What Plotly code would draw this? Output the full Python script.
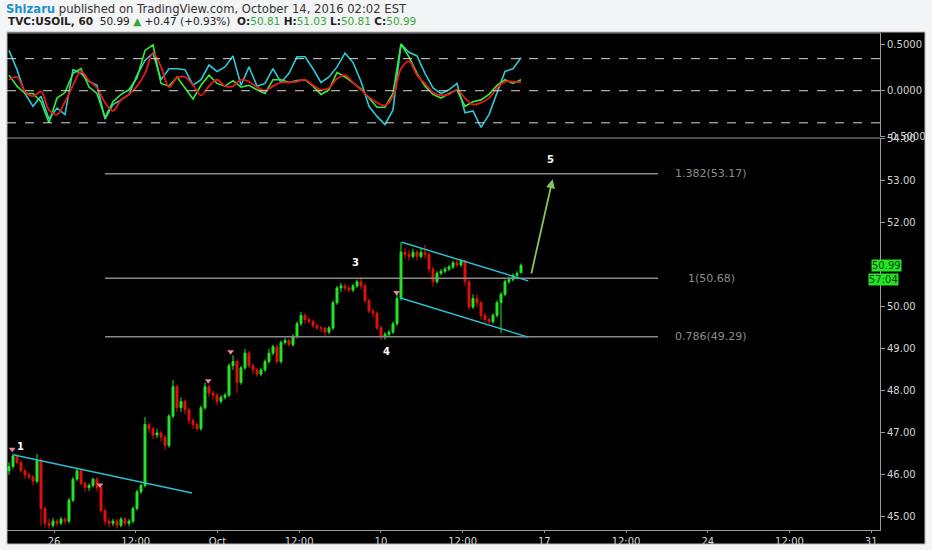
import numpy as np
import plotly.graph_objects as go

# ---------------- data ----------------
close = [46.2, 46.45, 46.3, 46.1, 46.0, 45.95, 45.85, 46.35, 45.2, 44.85,
         44.8, 44.9, 44.85, 44.95, 44.9, 45.4, 45.9, 46.1, 45.8, 45.7,
         45.75, 45.9, 45.7, 45.15, 44.9, 44.85, 44.9, 44.8, 44.95, 44.85,
         44.9, 45.2, 45.6, 45.75, 47.2, 47.1, 46.95, 47.0, 46.9, 46.7,
         47.4, 48.1, 47.6, 47.75, 47.55, 47.3, 47.2, 47.1, 47.6, 48.1,
         47.95, 47.9, 47.75, 47.85, 47.9, 48.6, 48.7, 48.2, 48.55, 48.9,
         48.6, 48.5, 48.4, 48.5, 48.7, 48.9, 49.05, 48.7, 49.15, 49.2,
         49.1, 49.3, 49.6, 49.8, 49.7, 49.65, 49.55, 49.5, 49.5, 49.4,
         49.5, 50.1, 50.45, 50.5, 50.45, 50.4, 50.5, 50.6, 50.5, 50.15,
         49.9, 49.85, 49.5, 49.3, 49.35, 49.4, 49.6, 50.2, 51.3, 51.25,
         51.2, 51.3, 51.2, 51.3, 51.25, 50.9, 50.6, 50.8, 50.85, 50.9,
         50.95, 51.05, 51.0, 51.1, 50.6, 50.0, 50.2, 50.1, 49.8, 49.7,
         49.65, 49.8, 50.1, 50.3, 50.6, 50.65, 50.75, 50.8, 50.99]

open_ = [46.1, 46.2, 46.45, 46.3, 46.1, 46.0, 45.95, 45.85, 46.35, 45.2,
         44.85, 44.8, 44.9, 44.85, 44.95, 44.9, 45.4, 45.9, 46.1, 45.8,
         45.7, 45.75, 45.9, 45.7, 45.15, 44.9, 44.85, 44.9, 44.8, 44.95,
         44.85, 44.9, 45.2, 45.6, 45.75, 47.2, 47.1, 46.95, 47.0, 46.9,
         46.7, 47.4, 48.1, 47.6, 47.75, 47.55, 47.3, 47.2, 47.1, 47.6,
         48.1, 47.95, 47.9, 47.75, 47.85, 47.9, 48.6, 48.7, 48.2, 48.55,
         48.9, 48.6, 48.5, 48.4, 48.5, 48.7, 48.9, 49.05, 48.7, 49.15,
         49.2, 49.1, 49.3, 49.6, 49.8, 49.7, 49.65, 49.55, 49.5, 49.5,
         49.4, 49.5, 50.1, 50.45, 50.5, 50.45, 50.4, 50.5, 50.6, 50.5,
         50.15, 49.9, 49.85, 49.5, 49.3, 49.35, 49.4, 49.6, 50.2, 51.3,
         51.25, 51.2, 51.3, 51.2, 51.3, 51.25, 50.9, 50.6, 50.8, 50.85,
         50.9, 50.95, 51.05, 51.0, 51.1, 50.6, 50.0, 50.2, 50.1, 49.8,
         49.7, 49.65, 49.8, 50.1, 50.3, 50.6, 50.65, 50.75, 50.81]

high = [46.3, 46.5, 46.48, 46.35, 46.15, 46.05, 46.0, 46.5, 46.4, 45.25,
        44.95, 44.98, 44.95, 45.0, 45.0, 45.45, 45.95, 46.17, 46.12, 45.85,
        45.8, 45.93, 45.95, 45.76, 45.2, 44.98, 44.95, 44.95, 45.0, 45.0,
        44.95, 45.25, 45.65, 45.8, 47.38, 47.25, 47.15, 47.1, 47.05, 46.95,
        47.45, 48.26, 48.15, 47.85, 47.8, 47.6, 47.35, 47.25, 47.65, 48.2,
        48.15, 48.0, 47.95, 47.9, 47.95, 48.65, 48.85, 48.75, 48.6, 49.0,
        48.95, 48.65, 48.55, 48.55, 48.75, 49.0, 49.1, 49.1, 49.2, 49.26,
        49.25, 49.35, 49.65, 49.88, 49.85, 49.75, 49.7, 49.6, 49.55, 49.52,
        49.55, 50.15, 50.5, 50.57, 50.55, 50.5, 50.55, 50.65, 50.71, 50.55,
        50.2, 49.95, 49.9, 49.55, 49.4, 49.45, 49.65, 50.35, 51.55, 51.4,
        51.35, 51.38, 51.35, 51.4, 51.48, 51.3, 50.95, 50.85, 50.9, 50.95,
        51.0, 51.1, 51.12, 51.15, 51.12, 50.65, 50.3, 50.3, 50.15, 49.85,
        49.75, 49.85, 50.15, 50.35, 50.65, 50.72, 50.8, 50.85, 51.03]

low = [46.0, 46.15, 46.25, 46.05, 45.9, 45.9, 45.75, 45.8, 44.8, 44.75,
       44.72, 44.75, 44.78, 44.8, 44.82, 44.85, 45.35, 45.85, 45.75, 45.6,
       45.62, 45.7, 45.6, 45.1, 44.8, 44.75, 44.78, 44.72, 44.75, 44.78,
       44.78, 44.85, 45.15, 45.55, 45.7, 47.0, 46.85, 46.88, 46.8, 46.6,
       46.65, 47.35, 47.5, 47.5, 47.45, 47.2, 47.1, 47.05, 47.05, 47.55,
       47.85, 47.8, 47.65, 47.7, 47.8, 47.85, 48.5, 47.95, 48.15, 48.5,
       48.55, 48.4, 48.33, 48.35, 48.45, 48.65, 48.85, 48.65, 48.65, 49.1,
       49.05, 49.05, 49.25, 49.55, 49.6, 49.6, 49.5, 49.45, 49.4, 49.29,
       49.35, 49.45, 50.05, 50.35, 50.38, 50.33, 50.35, 50.45, 50.42, 50.1,
       49.85, 49.75, 49.45, 49.21, 49.22, 49.3, 49.35, 49.55, 50.15, 51.15,
       51.1, 51.15, 51.1, 51.15, 51.15, 50.8, 50.48, 50.55, 50.75, 50.8,
       50.85, 50.9, 50.95, 50.95, 50.5, 49.93, 49.95, 50.0, 49.7, 49.62,
       49.6, 49.6, 49.75, 49.38, 50.25, 50.55, 50.6, 50.7, 50.81]

# oscillator pane (one value every 2 bars)
osc_fast = [0.44, 0.23, -0.03, -0.17, -0.06, -0.31, -0.19, -0.26, 0.23, 0.19,
            0.10, 0.06, -0.31, -0.15, -0.10, -0.04, 0.17, 0.33, 0.41, 0.12,
            0.24, 0.24, 0.23, 0.06, 0.12, 0.28, 0.21, 0.26, 0.38, 0.06,
            0.26, 0.05, 0.08, 0.24, 0.09, 0.19, 0.37, 0.37, 0.24, 0.09,
            0.15, 0.26, 0.41, 0.31, 0.10, -0.17, -0.28, -0.37, -0.21, 0.51,
            0.42, 0.38, 0.19, 0.03, -0.03, 0.01, 0.08, -0.24, -0.22, -0.40,
            -0.26, -0.03, 0.21, 0.24, 0.36]
osc_mid = [0.17, 0.05, -0.03, -0.03, -0.12, -0.35, -0.08, -0.02, 0.19, 0.24,
           0.04, -0.03, -0.29, -0.12, -0.04, 0.01, 0.14, 0.44, 0.50, 0.08,
           0.05, 0.15, 0.03, -0.09, 0.06, 0.17, 0.08, 0.05, 0.11, 0.04,
           0.06, 0.01, -0.03, 0.12, 0.12, 0.09, 0.11, 0.12, 0.05, -0.04,
           0.01, 0.20, 0.15, 0.09, 0.02, -0.08, -0.18, -0.18, -0.03, 0.51,
           0.37, 0.19, 0.05, -0.04, -0.08, -0.03, 0.01, -0.17, -0.12, -0.10,
           -0.04, 0.06, 0.12, 0.08, 0.12]
osc_slow = [0.12, 0.15, -0.01, -0.06, -0.01, -0.21, -0.26, -0.12, 0.06, 0.21,
            0.11, 0.03, -0.13, -0.22, -0.10, -0.04, 0.05, 0.19, 0.41, 0.26,
            0.04, 0.14, 0.15, 0.06, -0.05, 0.05, 0.12, 0.05, 0.05, 0.12,
            0.10, 0.04, 0.00, 0.05, 0.09, 0.09, 0.10, 0.12, 0.06, 0.01,
            0.03, 0.13, 0.17, 0.09, 0.01, -0.07, -0.13, -0.16, -0.06, 0.24,
            0.32, 0.17, 0.08, -0.02, -0.05, -0.04, 0.01, -0.08, -0.15, -0.13,
            -0.08, 0.03, 0.10, 0.10, 0.09]

tick_labels = ["26", "12:00", "Oct", "12:00", "10", "12:00", "17", "12:00", "24", "12:00", "31"]
price_ticks = [45, 46, 47, 48, 49, 50, 51, 52, 53, 54]
price_tick_text = ["45.00", "46.00", "47.00", "48.00", "49.00", "50.00", "", "52.00", "53.00", "54.00"]
osc_ticks = [-0.5, 0.0, 0.5]

fib_ratios = ["1.382", "1", "0.786"]
fib_prices = [53.17, 50.68, 49.29]

wave_labels = ["1", "3", "4", "5"]
wave_bar = [2.75, 86.5, 94.25, 135.25]
wave_price = [46.67, 51.05, 48.93, 53.5]

fractal_bar = [0.8, 22.75, 49.8, 55.4, 96.9]
fractal_price = [46.61, 45.76, 48.24, 48.93, 50.34]

# ---------------- geometry helpers ----------------
W, H = 932, 550
ML, MR, MT, MB = 7, 52, 33, 20
PW = W - ML - MR
PH = H - MT - MB


def pxx(px):
    return (px - ML) / PW


def pxy(py):
    return (H - MB - py) / PH


bars = np.arange(len(close))
osc_x = np.arange(0, len(close), 2)
half_week = 20.43
tickvals = [11.25 + half_week * k for k in range(len(tick_labels))]

fig = go.Figure()

fig.add_trace(go.Candlestick(
    x=bars, open=open_, high=high, low=low, close=close,
    increasing=dict(line=dict(color="#22e622", width=1), fillcolor="#22e622"),
    decreasing=dict(line=dict(color="#e01010", width=1), fillcolor="#e01010"),
    whiskerwidth=0, xaxis="x", yaxis="y", hoverinfo="skip"))

fig.add_trace(go.Scatter(x=fractal_bar, y=fractal_price, mode="markers",
                         marker=dict(symbol="triangle-down", size=6, color="#f27fa0"),
                         xaxis="x", yaxis="y", hoverinfo="skip"))

fig.add_trace(go.Scatter(x=osc_x, y=osc_fast, mode="lines",
                         line=dict(color="#2bc8d8", width=1.6), xaxis="x2", yaxis="y2"))
fig.add_trace(go.Scatter(x=osc_x, y=osc_mid, mode="lines",
                         line=dict(color="#33ee33", width=1.6), xaxis="x2", yaxis="y2"))
fig.add_trace(go.Scatter(x=osc_x, y=osc_slow, mode="lines", line_shape="spline",
                         line=dict(color="#e81818", width=1.8), xaxis="x2", yaxis="y2"))

shapes = []
# black chart panel
shapes.append(dict(type="rect", xref="paper", yref="paper", x0=pxx(7), x1=pxx(925),
                   y0=pxy(544), y1=pxy(32), fillcolor="#000000",
                   line=dict(color="#b8b8b8", width=1), layer="below"))
# pane separator and top border
for py in (138, 33):
    shapes.append(dict(type="line", xref="paper", yref="paper", x0=0, x1=1,
                       y0=pxy(py), y1=pxy(py), line=dict(color="#9a9a9a", width=1)))
# oscillator dashed levels
for lv in (0.35, 0.0, -0.35):
    shapes.append(dict(type="line", xref="paper", yref="y2", x0=0, x1=1, y0=lv, y1=lv,
                       line=dict(color="#d8d8d8", width=1, dash="dash")))
# fib levels
for p in fib_prices:
    shapes.append(dict(type="line", xref="x", yref="y", x0=24, x1=162.25, y0=p, y1=p,
                       line=dict(color="#8a8a8a", width=1.5)))
# trend lines
cyan = "#2bbfcf"
shapes.append(dict(type="line", xref="x", yref="y", x0=1, y0=46.48, x1=45.75, y1=45.57,
                   line=dict(color=cyan, width=1.5)))
shapes.append(dict(type="line", xref="x", yref="y", x0=98.2, y0=51.54, x1=129.8, y1=50.62,
                   line=dict(color=cyan, width=1.5)))
shapes.append(dict(type="line", xref="x", yref="y", x0=97.9, y0=50.21, x1=129.8, y1=49.28,
                   line=dict(color=cyan, width=1.5)))
# small price marker dash on axis
shapes.append(dict(type="line", xref="paper", yref="paper", x0=pxx(880), x1=pxx(886),
                   y0=pxy(265), y1=pxy(265), line=dict(color="#22e622", width=1)))

annotations = []
hdr_font = "DejaVu Sans"
annotations.append(dict(
    xref="paper", yref="paper", x=pxx(4), y=pxy(9), xanchor="left", yanchor="middle",
    showarrow=False, font=dict(family=hdr_font, size=11.6, color="#333333"),
    text="<b><span style='color:#1c8fcf'>Shizaru</span></b> published on TradingView.com, October 14, 2016 02:02 EST"))
g = "#35a835"
annotations.append(dict(
    xref="paper", yref="paper", x=pxx(6), y=pxy(21), xanchor="left", yanchor="middle",
    showarrow=False, font=dict(family=hdr_font, size=10.5, color="#222222"),
    text=("<b>TVC:USOIL, 60</b>  50.99 <span style='color:%s'>▲</span> +0.47 (+0.93%%)  "
          "<b>O:</b><span style='color:%s'>50.81</span> <b>H:</b><span style='color:%s'>51.03</span> "
          "<b>L:</b><span style='color:%s'>50.81</span> <b>C:</b><span style='color:%s'>50.99</span>")
    % (g, g, g, g, g)))

for r, p in zip(fib_ratios, fib_prices):
    annotations.append(dict(xref="x", yref="y", x=(711 - 9) / 4, y=p, xanchor="center",
                            yanchor="middle", showarrow=False, text=f"{r}({p:.2f})",
                            font=dict(family="DejaVu Sans", size=11, color="#8c8c8c")))

for t, bx, by in zip(wave_labels, wave_bar, wave_price):
    annotations.append(dict(xref="x", yref="y", x=bx, y=by, showarrow=False,
                            text=f"<b>{t}</b>", font=dict(family="DejaVu Sans", size=10, color="#ffffff")))

# projection arrow
annotations.append(dict(xref="x", yref="y", axref="x", ayref="y", x=135.9, y=53.04,
                        ax=130.5, ay=50.76, showarrow=True, arrowhead=2, arrowsize=1,
                        arrowwidth=1.8, arrowcolor="#86c45a", text=""))

# last price boxes
annotations.append(dict(xref="paper", yref="paper", x=pxx(902.5), y=pxy(265), showarrow=False,
                        text="50.99", bgcolor="#22e622", borderpad=0,
                        font=dict(family="DejaVu Sans", size=10, color="#0b3a0b")))
annotations.append(dict(xref="paper", yref="paper", x=pxx(899.5), y=pxy(279), showarrow=False,
                        text="57:04", bgcolor="#22e622", borderpad=0,
                        font=dict(family="DejaVu Sans", size=10, color="#0b3a0b")))

axis_font = dict(family="DejaVu Sans", size=10, color="#d6d6d6")
main_top = pxy(138)
osc_bot = pxy(137)

fig.update_layout(
    width=W, height=H,
    margin=dict(l=ML, r=MR, t=MT, b=MB, autoexpand=False),
    paper_bgcolor="#f3f4f5", plot_bgcolor="rgba(0,0,0,0)",
    showlegend=False, hovermode=False,
    xaxis=dict(domain=[0, 1], range=[-0.5, 217.75], anchor="y",
               tickvals=tickvals, ticktext=tick_labels, showgrid=False, zeroline=False,
               showline=True, linecolor="#9a9a9a", ticks="outside", ticklen=2,
               tickcolor="#9a9a9a", tickfont=axis_font, rangeslider=dict(visible=False)),
    xaxis2=dict(domain=[0, 1], range=[-0.5, 217.75], anchor="y2", matches="x",
                showticklabels=False, showgrid=False, zeroline=False, showline=False, ticks=""),
    yaxis=dict(domain=[0, main_top], range=[44.69, 54.02], side="right", anchor="x",
               tickvals=price_ticks, ticktext=price_tick_text,
               showgrid=False, zeroline=False, showline=True, linecolor="#9a9a9a",
               ticks="outside", ticklen=4, tickcolor="#9a9a9a", tickfont=axis_font),
    yaxis2=dict(domain=[osc_bot, 1], range=[-0.505, 0.63], side="right", anchor="x2",
                tickvals=osc_ticks, ticktext=["-0.5000", "0.0000", "0.5000"],
                showgrid=False, zeroline=False, showline=True, linecolor="#9a9a9a",
                ticks="outside", ticklen=4, tickcolor="#9a9a9a", tickfont=axis_font),
    shapes=shapes, annotations=annotations,
)

fig.write_html("out.html", config={"displayModeBar": False},
               post_script="document.body.style.margin='0';document.body.style.padding='0';document.body.style.overflow='hidden';")
